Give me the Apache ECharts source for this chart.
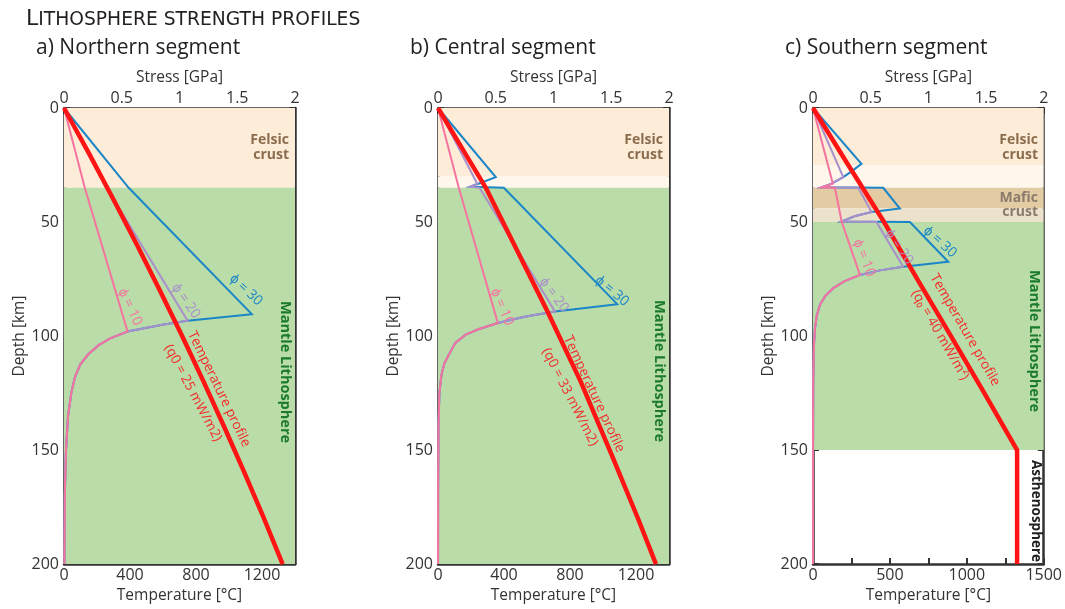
<!DOCTYPE html>
<html><head><meta charset="utf-8">
<script src="https://cdn.jsdelivr.net/npm/echarts@6/dist/echarts.min.js"></script>
<style>html,body{margin:0;padding:0;background:#fff}#c{width:1065px;height:609px}</style>
</head><body><div id="c"></div><script>
// ---------- DATA ----------
const stressTicks = [0, 0.5, 1, 1.5, 2];
const depthTicks = [0, 50, 100, 150, 200];
const panelTitles = ['a) Northern segment', 'b) Central segment', 'c) Southern segment'];
const heatFlowLabels = ['(q0 = 25 mW/m2)', '(q0 = 33 mW/m2)', '(q\u2080 = 40 mW/m\u00b2)'];
const tempMax = [1400, 1400, 1500];
const tempTickStep = [200, 200, 250];
const tempLabelStep = [400, 400, 500];

// Panel a: temperature profile
const depthTempA = [0, 20, 40, 60, 80, 100, 120, 140, 160, 180, 200];
const tempA = [0, 152, 299, 442, 581, 716, 846, 972, 1094, 1212, 1325];
// Panel a: strength envelopes (stress GPa, depth km)
const creepDepthA = [90.4, 93.3, 95, 98, 101, 104, 108, 112.5, 118, 125, 135, 150, 170, 200];
const creepStressA = [1.626, 1.07, 0.85, 0.55, 0.40, 0.30, 0.21, 0.14, 0.095, 0.063, 0.035, 0.017, 0.007, 0.003];
const phi30DepthA = [0, 35];   const phi30StressA = [0, 0.56];
const phi20DepthA = [0, 35];   const phi20StressA = [0, 0.37];
const phi10DepthA = [0, 35];   const phi10StressA = [0, 0.18];

// Panel b
const depthTempB = [0, 20, 35, 60, 89, 120, 152, 180, 200];
const tempB = [0, 165, 290, 462, 662, 865, 1052, 1212, 1321];
const creepDepthB = [86, 89.2, 91.5, 94.3, 97, 99.4, 103, 108, 112, 117, 125, 140, 170, 200];
const creepStressB = [1.552, 1.013, 0.75, 0.518, 0.35, 0.24, 0.15, 0.096, 0.055, 0.03, 0.012, 0.004, 0.001, 0.0005];
const phi30DepthB = [0, 30.3, 33.2, 34.5, 35];  const phi30StressB = [0, 0.50, 0.35, 0.28, 0.57];
const phi20DepthB = [0, 33.2, 34.5, 35];        const phi20StressB = [0, 0.34, 0.28, 0.36];
const phi10DepthB = [0, 35];                    const phi10StressB = [0, 0.18];

// Panel c
const depthTempC = [0, 25, 50, 75, 100, 125, 150, 200];
const tempC = [0, 229, 462, 678, 897, 1114, 1327, 1327];
const creepDepthC = [67.4, 69.6, 71.2, 73.2, 76, 79, 82.5, 86.3, 91, 96.5, 105, 120, 150, 200];
const creepStressC = [1.172, 0.782, 0.58, 0.407, 0.27, 0.176, 0.105, 0.06, 0.033, 0.017, 0.007, 0.002, 0.0005, 0];
const phi30DepthC = [0, 24.5, 27.8, 30.3, 33.2, 34.8, 35, 44.1, 45.6, 47.5, 49.8, 50];
const phi30StressC = [0, 0.42, 0.335, 0.262, 0.162, 0.075, 0.609, 0.753, 0.508, 0.36, 0.248, 0.84];
const phi20DepthC = [0, 30.3, 33.2, 34.8, 35, 45.6, 47.5, 49.8, 50];
const phi20StressC = [0, 0.262, 0.162, 0.075, 0.392, 0.508, 0.36, 0.248, 0.55];
const phi10DepthC = [0, 33.2, 34.8, 35, 49.8, 50];
const phi10StressC = [0, 0.172, 0.075, 0.19, 0.248, 0.262];

// Layer bands (depth ranges)
const bandsA = [[0, 35, 'felsic'], [35, 200, 'mantle']];
const bandsB = [[0, 30, 'felsic'], [30, 35, 'gap'], [35, 200, 'mantle']];
const bandsC = [[0, 25, 'felsic'], [25, 35, 'gap'], [35, 44, 'mafic'], [44, 50, 'mafic2'], [50, 150, 'mantle']];

// ---------- STYLE ----------
const FONT = '"Open Sans", sans-serif';
const AX = '#333333';
const C = {red: '#ff1414', blue: '#1a86c8', purple: '#a98fcb', pink: '#f5749f'};
const BAND = {felsic: '#fdecd8', gap: '#fff6ec', mafic: '#e3cca3', mafic2: '#ece2cc', mantle: '#b9dca8'};
const gridLeft = [64, 438, 813];
const GT = 108, GW = 231, GH = 460;

function zip(xs, ys) { return xs.map((x, i) => [x, ys[i]]); }
function envelope(sx, dy, cs, cd, start) {
  return zip(sx, dy).concat(zip(cs.slice(start), cd.slice(start)));
}

const env = [
  {
    temp: zip(tempA, depthTempA), bands: bandsA,
    blue: envelope(phi30StressA, phi30DepthA, creepStressA, creepDepthA, 0),
    purple: envelope(phi20StressA, phi20DepthA, creepStressA, creepDepthA, 1),
    pink: envelope(phi10StressA, phi10DepthA, creepStressA, creepDepthA, 3)
  },
  {
    temp: zip(tempB, depthTempB), bands: bandsB,
    blue: envelope(phi30StressB, phi30DepthB, creepStressB, creepDepthB, 0),
    purple: envelope(phi20StressB, phi20DepthB, creepStressB, creepDepthB, 1),
    pink: envelope(phi10StressB, phi10DepthB, creepStressB, creepDepthB, 3)
  },
  {
    temp: zip(tempC, depthTempC), bands: bandsC,
    blue: envelope(phi30StressC, phi30DepthC, creepStressC, creepDepthC, 0),
    purple: envelope(phi20StressC, phi20DepthC, creepStressC, creepDepthC, 1),
    pink: envelope(phi10StressC, phi10DepthC, creepStressC, creepDepthC, 3)
  }
];

const grid = [], xAxis = [], yAxis = [], series = [];
const axLine = {show: true, onZero: false, lineStyle: {color: AX, width: 2.5}};
const axTick = {show: true, inside: true, length: 6, lineStyle: {color: AX, width: 2}};
const lblStyle = {color: AX, fontSize: 16, fontFamily: FONT};

for (let k = 0; k < 3; k++) {
  grid.push({left: gridLeft[k], top: GT, width: GW, height: GH, containLabel: false});
  xAxis.push({
    type: 'value', gridIndex: k, position: 'top', min: stressTicks[0], max: stressTicks[stressTicks.length - 1],
    interval: stressTicks[1] - stressTicks[0],
    axisLine: axLine, axisTick: axTick, splitLine: {show: false},
    axisLabel: Object.assign({margin: 2}, lblStyle),
    name: 'Stress [GPa]', nameLocation: 'middle', nameGap: 16,
    nameTextStyle: Object.assign({}, lblStyle, {fontSize: 15.5})
  });
  const ls = tempLabelStep[k];
  xAxis.push({
    type: 'value', gridIndex: k, position: 'bottom', min: 0, max: tempMax[k], interval: tempTickStep[k],
    axisLine: axLine, axisTick: axTick, splitLine: {show: false},
    axisLabel: Object.assign({margin: 3, formatter: v => (v % ls === 0 ? String(v) : '')}, lblStyle),
    name: 'Temperature [\u00b0C]', nameLocation: 'middle', nameGap: 20,
    nameTextStyle: Object.assign({}, lblStyle, {fontSize: 15.5})
  });
  yAxis.push({
    type: 'value', gridIndex: k, position: 'left', inverse: true, min: depthTicks[0], max: depthTicks[depthTicks.length - 1],
    interval: depthTicks[1] - depthTicks[0],
    axisLine: axLine, axisTick: axTick, splitLine: {show: false},
    axisLabel: Object.assign({margin: 5}, lblStyle),
    name: 'Depth [km]', nameLocation: 'middle', nameGap: 33,
    nameTextStyle: Object.assign({}, lblStyle, {fontSize: 15.5})
  });
  yAxis.push({
    type: 'value', gridIndex: k, position: 'right', inverse: true, min: depthTicks[0], max: depthTicks[depthTicks.length - 1],
    interval: depthTicks[1] - depthTicks[0],
    axisLine: axLine, axisTick: axTick, splitLine: {show: false}, axisLabel: {show: false}
  });
  const sx = 2 * k, tx = 2 * k + 1, dy = 2 * k;
  series.push({
    type: 'line', xAxisIndex: sx, yAxisIndex: dy, data: [[0, 0]], showSymbol: false, symbol: 'none',
    lineStyle: {opacity: 0}, z: 0, silent: true,
    markArea: {
      silent: true,
      data: env[k].bands.map(b => [{yAxis: b[0], itemStyle: {color: BAND[b[2]]}}, {yAxis: b[1]}])
    }
  });
  ['blue', 'purple', 'pink'].forEach((c, i) => {
    series.push({
      type: 'line', xAxisIndex: sx, yAxisIndex: dy, data: env[k][c], showSymbol: false, symbol: 'none',
      lineStyle: {color: C[c], width: 2, join: 'miter'}, z: 3 + i, animation: false
    });
  });
  series.push({
    type: 'line', xAxisIndex: tx, yAxisIndex: dy, data: env[k].temp, showSymbol: false, symbol: 'none',
    lineStyle: {color: C.red, width: 4.5}, z: 7, animation: false
  });
}

// ---------- annotations ----------
const g = [];
function t(x, y, text, color, size, deg, extra) {
  g.push(Object.assign({
    type: 'text', x: x, y: y, rotation: -deg * Math.PI / 180, z: 100,
    style: Object.assign({text: text, fill: color, fontSize: size, fontFamily: FONT,
      align: 'center', verticalAlign: 'middle'}, extra || {})
  }));
}
const TF = '"DejaVu Sans", sans-serif';
g.push({
  type: 'text', x: 26, y: 18, z: 100,
  style: {text: '{a|L}{b|ITHOSPHERE STRENGTH PROFILES}', verticalAlign: 'middle', align: 'left',
    rich: {a: {fontSize: 22, fontFamily: TF, fill: '#231f20', verticalAlign: 'bottom', lineHeight: 24},
           b: {fontSize: 18.7, fontFamily: TF, fill: '#231f20', verticalAlign: 'bottom', lineHeight: 23}}}
});
const titleX = [36, 410, 785];
for (let k = 0; k < 3; k++) t(titleX[k], 48, panelTitles[k], '#231f20', 21, 0, {align: 'left'});

const felsic = '#8b6c4c';
[289, 663, 1038].forEach(x => t(x, 148, 'Felsic\ncrust', felsic, 14, 0, {align: 'right', fontWeight: 'bold', lineHeight: 15}));
t(1038, 205.5, 'Mafic\ncrust', '#8a7b6c', 14, 0, {align: 'right', fontWeight: 'bold', lineHeight: 14});
[[285, 372], [659, 371], [1034, 341]].forEach(p => t(p[0], p[1], 'Mantle Lithosphere', '#1b7a2b', 14.5, 90, {fontWeight: 'bold'}));
t(1036, 511, 'Asthenosphere', '#222222', 13.5, 90, {fontWeight: 'bold'});

const phiPos = [
  [[246, 290, 43], [186, 301, 55], [130, 307, 65]],
  [[612, 291, 40], [554, 295, 53], [502, 307, 66]],
  [[940, 242, 42], [899, 247, 56], [864, 258, 69]]
];
const phiText = ['\u03d5 = 30', '\u03d5 = 20', '\u03d5 = 10'];
const phiCol = [C.blue, C.purple, C.pink];
const tpPos = [[219, 389, 64], [594, 394, 65], [965, 330, 60]];
const qPos = [[193, 393, 62], [570, 397, 63], [940, 335, 60]];
for (let k = 0; k < 3; k++) {
  for (let i = 0; i < 3; i++) t(phiPos[k][i][0], phiPos[k][i][1], phiText[i], phiCol[i], 14, phiPos[k][i][2]);
  t(tpPos[k][0], tpPos[k][1], 'Temperature profile', '#f52a2a', 13.5, tpPos[k][2]);
  t(qPos[k][0], qPos[k][1], heatFlowLabels[k], '#f52a2a', 13.5, qPos[k][2]);
}

const chart = echarts.init(document.getElementById('c'), null, {renderer: 'canvas'});
chart.setOption({animation: false, backgroundColor: '#ffffff', grid, xAxis, yAxis, series, graphic: g});
</script></body></html>
